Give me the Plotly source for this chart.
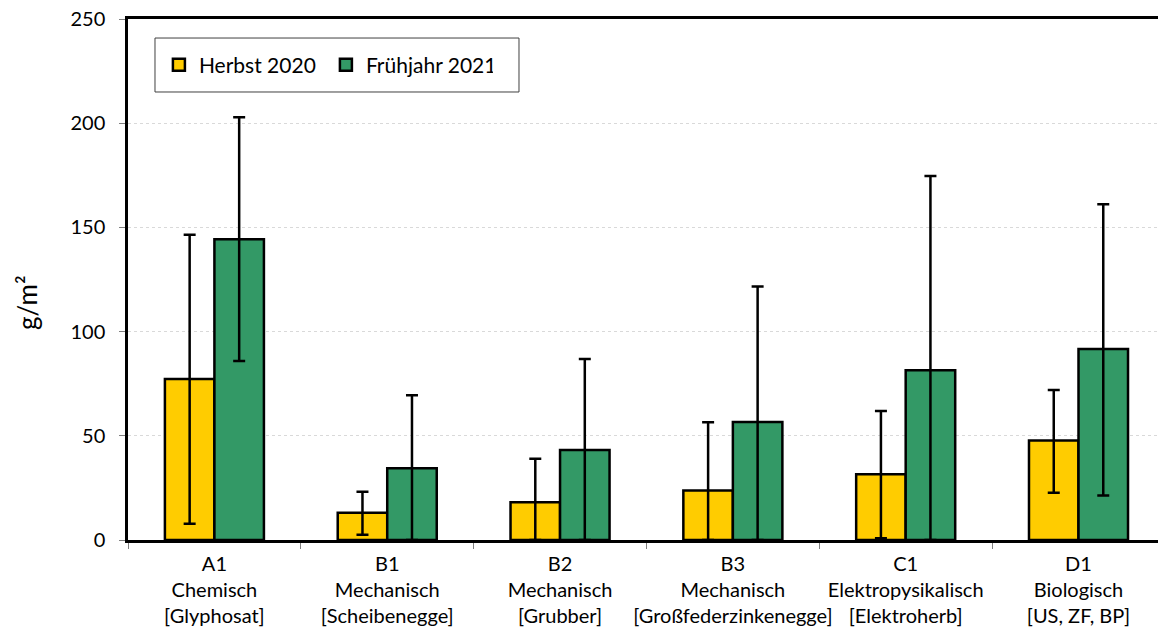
import plotly.graph_objects as go

categories = [
    "A1<br>Chemisch<br>[Glyphosat]",
    "B1<br>Mechanisch<br>[Scheibenegge]",
    "B2<br>Mechanisch<br>[Grubber]",
    "B3<br>Mechanisch<br>[Großfederzinkenegge]",
    "C1<br>Elektropysikalisch<br>[Elektroherb]",
    "D1<br>Biologisch<br>[US, ZF, BP]",
]

herbst_2020 = [77.2, 13.1, 18.1, 23.8, 31.5, 47.7]
herbst_err_plus = [69.3, 10.1, 20.9, 32.7, 30.4, 24.3]
herbst_err_minus = [69.4, 10.6, 18.1, 23.8, 30.7, 25.0]

fruehjahr_2021 = [144.3, 34.4, 43.2, 56.6, 81.4, 91.6]
fruehjahr_err_plus = [58.5, 35.0, 43.7, 65.1, 93.3, 69.5]
fruehjahr_err_minus = [58.4, 34.4, 43.2, 56.6, 81.4, 70.3]

y_ticks = [0, 50, 100, 150, 200, 250]
y_title = "g/m²"

FONT = "Lato, 'Open Sans', sans-serif"

fig = go.Figure()
fig.add_trace(go.Bar(
    name="Herbst 2020", x=categories, y=herbst_2020,
    marker=dict(color="#FFCC00", line=dict(color="black", width=2.5)),
    error_y=dict(type="data", symmetric=False, array=herbst_err_plus,
                 arrayminus=herbst_err_minus, color="black", thickness=2.5, width=6),
))
fig.add_trace(go.Bar(
    name="Frühjahr 2021", x=categories, y=fruehjahr_2021,
    marker=dict(color="#339966", line=dict(color="black", width=2.5)),
    error_y=dict(type="data", symmetric=False, array=fruehjahr_err_plus,
                 arrayminus=fruehjahr_err_minus, color="black", thickness=2.5, width=6),
))

# legend frame (decoration)
fig.add_shape(type="rect", xref="paper", yref="paper",
              x0=0.0262, x1=0.3796, y0=0.8599, y1=0.9635,
              line=dict(color="#404040", width=1), fillcolor="white", layer="below")

# y-axis title
fig.add_annotation(text=y_title, textangle=-90, xref="paper", yref="paper",
                   x=-0.098, y=0.455, showarrow=False, font=dict(size=26),
                   xanchor="center", yanchor="middle")

fig.update_layout(
    width=1158, height=632,
    margin=dict(l=128, r=0, t=19, b=92, autoexpand=False),
    paper_bgcolor="white", plot_bgcolor="white",
    barmode="group", bargap=0.427, bargroupgap=0,
    font=dict(family=FONT, size=20, color="black"),
    showlegend=True,
    legend=dict(
        orientation="h", x=0.030, y=0.9117, xanchor="left", yanchor="middle",
        bgcolor="rgba(0,0,0,0)", borderwidth=0,
        font=dict(size=21), entrywidth=122, itemwidth=30,
    ),
    xaxis=dict(
        type="category", range=[-0.5, 5.46], automargin=False, tickangle=0,
        showline=True, linecolor="black", linewidth=2.5, mirror=True,
        ticks="outside", tickson="boundaries", ticklen=6, tickcolor="#7f7f7f", tickwidth=1,
        showgrid=False, tickfont=dict(size=20), ticklabelstandoff=4,
    ),
    yaxis=dict(
        range=[0, 250], tickvals=y_ticks, automargin=False,
        showline=True, linecolor="black", linewidth=2.5,
        ticks="outside", ticklen=6, tickcolor="#7f7f7f", tickwidth=1,
        showgrid=True, gridcolor="#d9d9d9", griddash="dot", gridwidth=1,
        zeroline=False, tickfont=dict(size=20), ticklabelstandoff=10,
        ticklabeloverflow="allow",
    ),
)

fig.write_html("out.html", config={"displayModeBar": False},
               post_script="document.body.style.margin='0';")
